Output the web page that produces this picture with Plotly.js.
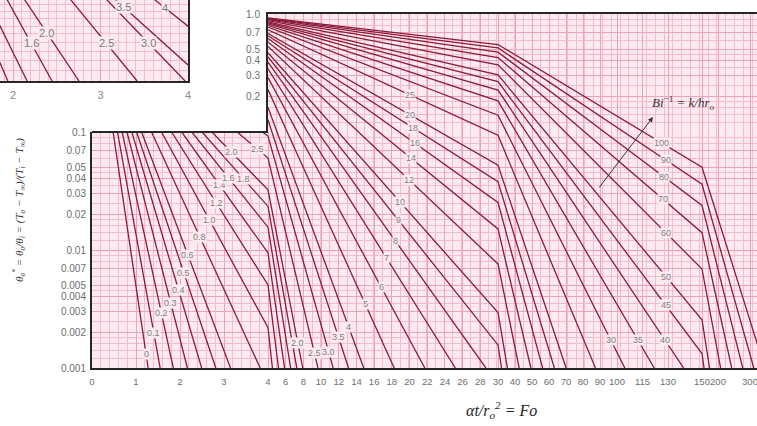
<!DOCTYPE html>
<html><head><meta charset="utf-8">
<script src="https://cdn.plot.ly/plotly-3.0.1.min.js"></script>
<style>html,body{margin:0;padding:0;background:#fff;overflow:hidden}#chart{width:757px;height:426px}</style>
</head><body><div id="chart"></div>
<script>
// ---------------- data ----------------
const CURVE_NAMES = ['0','0.1','0.2','0.3','0.4','0.5','0.6','0.8','1.0','1.2','1.4','1.6','1.8','2.0','2.5','3.0','3.5','4','5','6','7','8','9','10','12','14','16','18','20','25','30','35','40','45','50','60','70','80','90','100'];
const CURVE_FO = [
 [0.480,1.276],[0.579,1.549],[0.685,1.848],[0.795,2.168],[0.905,2.492],[1.014,2.814],[1.127,3.148],[1.353,3.822],
 [1.580,4,4.500],[1.809,4,5.187],[2.038,4,5.870],[2.269,4,6.563],[2.501,4,7.258],[2.724,4,7.927],[3.298,4,9.648],[3.872,4,11.37],
 [4,13.10],[4,14.82],[4,18.27],[4,21.73],[4,25.18],[4,28.63],
 [4,30,32.08],[4,30,35.54],[4,30,42.44],[4,30,49.35],[4,30,56.25],[4,30,63.16],[4,30,70.07],[4,30,87.34],[4,30,104.6],[4,30,121.9],[4,30,139.2],
 [4,30,150,156.4],[4,30,150,173.7],[4,30,150,208.2],[4,30,150,242.8],[4,30,150,277.3],[4,30,150,311.9],[4,30,150,346.4]
];
const CURVE_THETA = [
 [0.1,0.001],[0.1,0.001],[0.1,0.001],[0.1,0.001],[0.1,0.001],[0.1,0.001],[0.1,0.001],[0.1,0.001],
 [0.1,0.00220,0.001],[0.1,0.00505,0.001],[0.1,0.00946,0.001],[0.1,0.0156,0.001],[0.1,0.0234,0.001],[0.1,0.0323,0.001],[0.1,0.0601,0.001],[0.1,0.0924,0.001],
 [0.1269,0.001],[0.1617,0.001],[0.2286,0.001],[0.2895,0.001],[0.3435,0.001],[0.3909,0.001],
 [0.4327,0.001569,0.001],[0.4695,0.002945,0.001],[0.5312,0.007622,0.001],[0.5804,0.01510,0.001],[0.6207,0.02531,0.001],[0.6540,0.03787,0.001],[0.6820,0.05232,0.001],[0.7357,0.09382,0.001],[0.7740,0.1387,0.001],[0.8027,0.1836,0.001],[0.8248,0.2266,0.001],
 [0.8426,0.2670,0.001327,0.001],[0.8571,0.3045,0.002566,0.001],[0.8793,0.3710,0.006908,0.001],[0.8956,0.4272,0.01402,0.001],[0.9079,0.4750,0.02387,0.001],[0.9177,0.5158,0.03611,0.001],[0.9256,0.5510,0.05029,0.001]
];
// curve labels: text and the theta at which each label sits on its curve
const LABEL_TEXT = ['0','0.1','0.2','0.3','0.4','0.5','0.6','0.8','1.0','1.2','1.4','1.6','1.8','2.0','2.5',
 '2.0','2.5','3.0','3.5','4','5','6','7','8','9','10','12','14','16','18','20','25',
 '30','35','40','45','50','60','70','80','90','100'];
const LABEL_THETA = [0.001315,0.001982,0.002924,0.003556,0.004584,0.006383,0.009078,0.01288,0.01795,0.02501,0.03556,0.04074,0.03997,0.06776,0.07183,
 0.00163,0.00134,0.001367,0.001832,0.002224,0.003483,0.004853,0.008551,0.01191,0.01795,0.02553,0.03917,0.06026,0.08072,0.1081,0.1393,0.2059,
 0.001726,0.001726,0.001726,0.003420,0.005899,0.01393,0.02706,0.04159,0.0579,0.0807];

// inset (upper-left, partly cut off)
const INSET_NAMES = ['1.2','1.4','1.6','2.0','2.5','3.0','3.5','4'];
const INSET_FO = [[0.94,1.94],[1.16,2.16],[1.445,2.445],[1.754,2.754],[2.418,3.418],[2.967,3.967],[3.0,4.0],[3.0,4.0]];
const INSET_THETA = [[0.391,0.1],[0.3325,0.1],[0.2923,0.1],[0.2423,0.1],[0.2065,0.1],[0.1848,0.1],[0.1899,0.1115],[0.232,0.145]];
const INSET_LABEL_TEXT = ['1.6','2.0','2.5','3.0','3.5','4'];
const INSET_LABEL_THETA = [0.1294,0.1384,0.1294,0.1294,0.1655,0.1640];
const INSET_X_TICKS = [2,3,4];
const INSET_X_TICK_TEXT = ['2','3','4'];

// axis ticks
const X_TICK_VALUES = [0,1,2,3,4,6,8,10,12,14,16,18,20,22,24,26,28,30,40,50,60,70,80,90,100,115,130,150,200,300];
const X_TICK_TEXT = ['0','1','2','3','4','6','8','10','12','14','16','18','20','22','24','26','28','30','40','50','60','70','80','90','100','115','130','150','200','300'];
const Y_TICK_LOW = [0.001,0.002,0.003,0.004,0.005,0.007,0.01,0.02,0.03,0.04,0.05,0.07,0.1];
const Y_TICK_LOW_TEXT = ['0.001','0.002','0.003','0.004','0.005','0.007','0.01','0.02','0.03','0.04','0.05','0.07','0.1'];
const Y_TICK_HIGH = [0.2,0.3,0.4,0.5,0.7,1.0];
const Y_TICK_HIGH_TEXT = ['0.2','0.3','0.4','0.5','0.7','1.0'];

// ---------------- axis scale (piecewise Fo axis) ----------------
const FO_BREAKS = [0,4,30,150,300];
const AXIS_BREAKS = [0,176,406,610,658];
function foToAxis(fo){
  let i=0;
  while(i<FO_BREAKS.length-2 && fo>FO_BREAKS[i+1]) i++;
  const f0=FO_BREAKS[i], f1=FO_BREAKS[i+1], a0=AXIS_BREAKS[i], a1=AXIS_BREAKS[i+1];
  return a0+(fo-f0)*(a1-a0)/(f1-f0);
}
function onCurve(xs, ths, theta){
  for(let j=0;j<xs.length-1;j++){
    if(ths[j]>=theta && theta>=ths[j+1]){
      const t=(Math.log(ths[j])-Math.log(theta))/(Math.log(ths[j])-Math.log(ths[j+1]));
      return xs[j]+t*(xs[j+1]-xs[j]);
    }
  }
  return xs[0];
}

// ---------------- styles ----------------
const BG='#fdeaf0', GRID_MIN='#f5bccb', GRID_MAJ='#eba5b8', LINE='#8a1a3c', BORDER='#262626';
const TICKFONT={family:'Liberation Sans, Arial, sans-serif', size:10, color:'#6e6e6e'};
const LABFONT={family:'Liberation Sans, Arial, sans-serif', size:9, color:'#808080'};
const MULT=[1,1.2,1.4,1.6,1.8,2,2.5,3,3.5,4,4.5,5,6,7,8,9];
const lowMinor=[], highMinor=[], insetMinor=[];
[0.001,0.01].forEach(d=>MULT.forEach(m=>lowMinor.push(d*m))); lowMinor.push(0.1);
[0.1].forEach(d=>MULT.forEach(m=>highMinor.push(d*m))); highMinor.push(1);
for(let v=0.1; v<0.18; v+=0.0075) insetMinor.push(v);

// ---------------- traces ----------------
const traces=[];
CURVE_NAMES.forEach((n,i)=>{
  const xs=CURVE_FO[i].map(foToAxis), ys=CURVE_THETA[i];
  traces.push({type:'scatter',mode:'lines',x:xs,y:ys,xaxis:'x',yaxis:'y',name:n,line:{color:LINE,width:1.3},hoverinfo:'skip'});
  if(Math.max.apply(null,ys)>0.1)
    traces.push({type:'scatter',mode:'lines',x:xs,y:ys,xaxis:'x2',yaxis:'y2',name:n,line:{color:LINE,width:1.3},hoverinfo:'skip'});
});
INSET_NAMES.forEach((n,i)=>{
  traces.push({type:'scatter',mode:'lines',x:INSET_FO[i],y:INSET_THETA[i],xaxis:'x3',yaxis:'y3',name:n,line:{color:LINE,width:1.3},hoverinfo:'skip'});
});

// ---------------- annotations ----------------
const ann=[];
LABEL_TEXT.forEach((t,k)=>{
  const ci=CURVE_NAMES.indexOf(t);
  const th=LABEL_THETA[k];
  const xs=CURVE_FO[ci].map(foToAxis);
  const x=onCurve(xs,CURVE_THETA[ci],th);
  const up=th>0.1;
  ann.push({text:t,x:x,y:Math.log10(th),xref:up?'x2':'x',yref:up?'y2':'y',showarrow:false,
    xanchor:'center',yanchor:'middle',font:LABFONT,bgcolor:BG,borderpad:0});
});
INSET_LABEL_TEXT.forEach((t,k)=>{
  const ci=INSET_NAMES.indexOf(t);
  const th=INSET_LABEL_THETA[k];
  const x=onCurve(INSET_FO[ci],INSET_THETA[ci],th);
  ann.push({text:t,x:x,y:Math.log10(th),xref:'x3',yref:'y3',showarrow:false,xanchor:'center',yanchor:'middle',
    font:{family:'Liberation Sans, Arial, sans-serif',size:11,color:'#7a7a7a'},bgcolor:BG,borderpad:0});
});
ann.push({text:'<i>Bi</i><sup>−1</sup> <i>= k/hr<sub>o</sub></i>',xref:'paper',yref:'paper',x:683/757,y:(368-103)/368,
  xanchor:'center',yanchor:'middle',showarrow:false,font:{family:'Liberation Serif, serif',size:13,color:'#333'}});
ann.push({text:'',xref:'paper',yref:'paper',x:653/757,y:(368-117)/368,ax:-55,ay:72,showarrow:true,
  arrowhead:2,arrowsize:1,arrowwidth:1,arrowcolor:'#333'});
ann.push({text:'<i>αt/r<sub>o</sub><sup>2</sup> = Fo</i>',xref:'paper',yref:'paper',x:501/757,y:(368-410)/368,
  xanchor:'center',yanchor:'middle',showarrow:false,font:{family:'Liberation Serif, serif',size:16,color:'#222'}});
ann.push({text:'<i>θ<sub>o</sub><sup>*</sup> = θ<sub>o</sub>/θ<sub>i</sub> = (T<sub>o</sub> − T<sub>∞</sub>)/(T<sub>i</sub> − T<sub>∞</sub>)</i>',
  xref:'paper',yref:'paper',x:19/757,y:(368-210)/368,textangle:-90,showarrow:false,xanchor:'center',yanchor:'middle',
  font:{family:'Liberation Serif, serif',size:11,color:'#333'}});

// ---------------- layout ----------------
const xTickPos=X_TICK_VALUES.map(foToAxis);
const xMinor={tickmode:'linear',tick0:0,dtick:8.8,showgrid:true,gridcolor:GRID_MIN,gridwidth:1,ticks:''};
const layout={
  width:757,height:426,margin:{l:0,r:0,t:0,b:58,pad:0},
  paper_bgcolor:'#ffffff',plot_bgcolor:BG,showlegend:false,hovermode:false,
  font:{family:'Liberation Sans, Arial, sans-serif'},
  xaxis:{domain:[92/757,1],range:[0,665],anchor:'y',tickmode:'array',tickvals:xTickPos,ticktext:X_TICK_TEXT,
    tickangle:0,ticks:'outside',ticklen:4,tickcolor:'rgba(0,0,0,0)',tickfont:Object.assign({},TICKFONT,{size:9.5}),
    ticklabeloverflow:'allow',
    showline:true,linecolor:BORDER,linewidth:2,showgrid:true,gridcolor:GRID_MAJ,zeroline:false,minor:xMinor,fixedrange:true},
  yaxis:{domain:[0,236/368],type:'log',range:[-3,-1],anchor:'x',tickmode:'array',tickvals:Y_TICK_LOW,ticktext:Y_TICK_LOW_TEXT,
    ticks:'outside',ticklen:2,tickcolor:'rgba(0,0,0,0)',tickfont:TICKFONT,showline:true,linecolor:BORDER,linewidth:2,
    showgrid:true,gridcolor:GRID_MAJ,zeroline:false,
    minor:{tickmode:'array',tickvals:lowMinor,showgrid:true,gridcolor:GRID_MIN,ticks:''},fixedrange:true},
  xaxis2:{domain:[268/757,1],range:[176,665],anchor:'y2',side:'top',showticklabels:false,tickmode:'array',tickvals:xTickPos,
    ticks:'',showline:true,linecolor:BORDER,linewidth:2,showgrid:true,gridcolor:GRID_MAJ,zeroline:false,minor:xMinor,fixedrange:true},
  yaxis2:{domain:[236/368,354/368],type:'log',range:[-1,0],anchor:'x2',tickmode:'array',tickvals:Y_TICK_HIGH,ticktext:Y_TICK_HIGH_TEXT,
    ticks:'outside',ticklen:4,tickcolor:'rgba(0,0,0,0)',tickfont:TICKFONT,showline:true,linecolor:BORDER,linewidth:2,
    showgrid:true,gridcolor:GRID_MAJ,zeroline:false,
    minor:{tickmode:'array',tickvals:highMinor,showgrid:true,gridcolor:GRID_MIN,ticks:''},fixedrange:true},
  xaxis3:{domain:[0,188/757],range:[1.85,4.0],anchor:'y3',tickmode:'array',tickvals:INSET_X_TICKS,ticktext:INSET_X_TICK_TEXT,
    ticks:'outside',ticklen:3,tickcolor:'rgba(0,0,0,0)',tickfont:Object.assign({},TICKFONT,{size:11,color:'#888'}),
    showline:true,linecolor:BORDER,linewidth:2,showgrid:true,gridcolor:GRID_MAJ,zeroline:false,
    minor:{tickmode:'linear',tick0:0,dtick:0.1,showgrid:true,gridcolor:GRID_MIN,ticks:''},fixedrange:true},
  yaxis3:{domain:[287/368,1],type:'log',range:[-1,-0.7618],anchor:'x3',side:'right',showticklabels:false,ticks:'',
    showline:true,linecolor:BORDER,linewidth:2,showgrid:false,zeroline:false,
    minor:{tickmode:'array',tickvals:insetMinor,showgrid:true,gridcolor:GRID_MIN,ticks:''},fixedrange:true},
  shapes:[{type:'line',xref:'x',yref:'y domain',x0:0,x1:foToAxis(4),y0:1,y1:1,line:{color:BORDER,width:2}}],
  annotations:ann
};
Plotly.newPlot('chart',traces,layout,{staticPlot:true,displayModeBar:false});
</script></body></html>
